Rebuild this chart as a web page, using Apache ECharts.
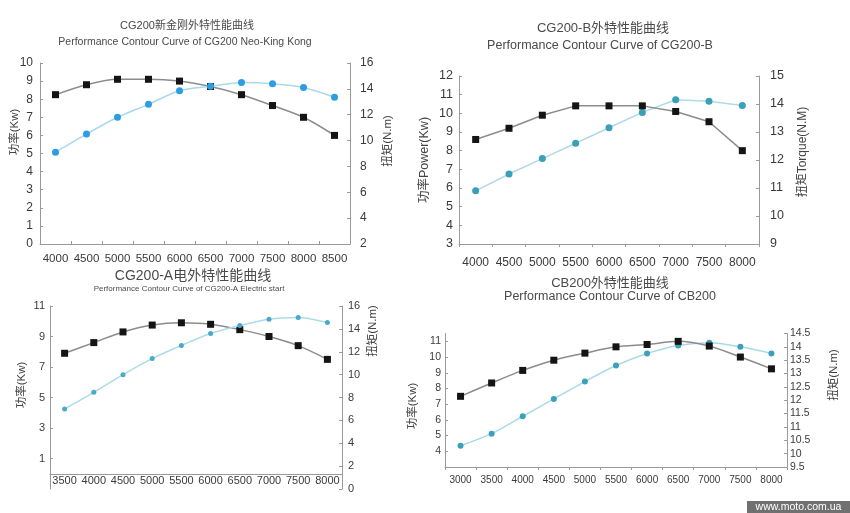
<!DOCTYPE html>
<html><head><meta charset="utf-8">
<script src="https://cdn.jsdelivr.net/npm/echarts@6/dist/echarts.min.js"></script>
<style>html,body{margin:0;padding:0;background:#fff}#c{width:850px;height:513px}</style>
</head><body><div id="c"></div>
<script>
// ---- data ----
const p1Cats = ['4000','4500','5000','5500','6000','6500','7000','7500','8000','8500'];
const p1Power = [8.25, 8.8, 9.1, 9.1, 9.0, 8.7, 8.25, 7.65, 7.0, 6.0];
const p1Torque = [9.1, 10.5, 11.8, 12.8, 13.85, 14.2, 14.5, 14.4, 14.1, 13.35];

const p2Cats = ['4000','4500','5000','5500','6000','6500','7000','7500','8000'];
const p2Power = [8.6, 9.2, 9.9, 10.4, 10.4, 10.4, 10.1, 9.55, 8.0];
const p2Torque = [10.9, 11.5, 12.05, 12.6, 13.15, 13.7, 14.15, 14.1, 13.95];

const p3Cats = ['3500','4000','4500','5000','5500','6000','6500','7000','7500','8000'];
const p3Power = [7.9, 8.6, 9.3, 9.75, 9.9, 9.8, 9.45, 9.0, 8.4, 7.5];
const p3Torque = [7.0, 8.45, 10.0, 11.4, 12.55, 13.6, 14.3, 14.85, 15.0, 14.55];

const p4Cats = ['3000','3500','4000','4500','5000','5500','6000','6500','7000','7500','8000'];
const p4Power = [7.5, 8.35, 9.15, 9.8, 10.25, 10.65, 10.8, 11.0, 10.7, 10.0, 9.25];
const p4Torque = [10.3, 10.75, 11.4, 12.05, 12.7, 13.3, 13.75, 14.05, 14.15, 14.0, 13.75];

const titles = [
  ['CG200新金刚外特性能曲线', 187, 26, 11],
  ['Performance Contour Curve of CG200 Neo-King Kong', 185, 42, 10.5],
  ['CG200-B外特性能曲线', 603, 28, 13],
  ['Performance Contour Curve of CG200-B', 600, 46, 12.5],
  ['CG200-A电外特性能曲线', 193, 276, 14],
  ['Performance Contour Curve of CG200-A Electric start', 189, 289, 8],
  ['CB200外特性能曲线', 610, 283, 13],
  ['Performance Contour Curve of CB200', 610, 297, 12.5]
];
const axisNames = [
  ['功率(Kw)', 15, 132, 11.5],
  ['扭矩(N.m)', 388, 141, 11.5],
  ['功率Power(Kw)', 425, 160, 12.5],
  ['扭矩Torque(N.M)', 803, 152, 12],
  ['功率(Kw)', 22, 385, 11.5],
  ['扭矩(N.m)', 373, 331, 11.5],
  ['功率(Kw)', 413, 406, 11.5],
  ['扭矩(N.m)', 834, 375, 11.5]
];

// ---- chart ----
const FONT = "'Liberation Sans', Arial, 'Noto Sans CJK SC', sans-serif";
const AX = '#9a9a9a', LBL = '#3a3a3a';
const grids = [
  {left: 40, top: 63, width: 310, height: 181},
  {left: 459, top: 76, width: 300, height: 168},
  {left: 50, top: 306, width: 292, height: 183},
  {left: 445, top: 333.5, width: 342, height: 133.5}
];
function xAx(gi, cats, fs, margin, inside, onZeroIdx, showTick) {
  return {
    type: 'category', gridIndex: gi, data: cats, boundaryGap: true,
    axisLine: {lineStyle: {color: AX}, onZero: onZeroIdx != null, onZeroAxisIndex: onZeroIdx == null ? undefined : onZeroIdx},
    axisTick: {show: showTick !== false, inside: inside, length: 3, lineStyle: {color: AX}},
    axisLabel: {color: LBL, fontSize: fs, margin: margin, fontFamily: FONT, interval: 0},
    splitLine: {show: false}
  };
}
function yAx(gi, pos, min, max, interval, fs, margin, extra) {
  return Object.assign({
    type: 'value', gridIndex: gi, position: pos, min: min, max: max, interval: interval,
    axisLine: {show: true, onZero: false, lineStyle: {color: AX}},
    axisTick: {show: true, inside: true, length: 3, lineStyle: {color: AX}},
    axisLabel: {color: LBL, fontSize: fs, margin: margin, fontFamily: FONT},
    splitLine: {show: false}
  }, extra || {});
}
function powerS(xi, yi, data, smooth, z) {
  return {type: 'line', xAxisIndex: xi, yAxisIndex: yi, data: data, smooth: smooth,
    symbol: 'rect', symbolSize: 7, z: z,
    lineStyle: {color: '#8c8c8c', width: 1.5},
    itemStyle: {color: '#141414'}};
}
function torqueS(xi, yi, data, smooth, color, lineColor, size, z) {
  return {type: 'line', xAxisIndex: xi, yAxisIndex: yi, data: data, smooth: smooth,
    symbol: 'circle', symbolSize: size, z: z,
    lineStyle: {color: lineColor, width: 1.5},
    itemStyle: {color: color}};
}

const graphic = [];
titles.forEach(t => graphic.push({type: 'text', x: t[1], y: t[2], silent: true,
  style: {text: t[0], fill: '#4a4a4a', font: t[3] + 'px ' + FONT, textAlign: 'center', textVerticalAlign: 'middle'}}));
axisNames.forEach(t => graphic.push({type: 'text', x: t[1], y: t[2], rotation: Math.PI / 2, silent: true,
  style: {text: t[0], fill: '#444', font: t[3] + 'px ' + FONT, textAlign: 'center', textVerticalAlign: 'middle'}}));
graphic.push({type: 'rect', shape: {x: 747, y: 501, width: 103, height: 12}, style: {fill: '#707070'}, silent: true});
graphic.push({type: 'text', x: 798.5, y: 507, silent: true,
  style: {text: 'www.moto.com.ua', fill: '#fff', font: '10.5px ' + FONT, textAlign: 'center', textVerticalAlign: 'middle'}});

const option = {
  animation: false,
  backgroundColor: '#ffffff',
  grid: grids,
  xAxis: [
    xAx(0, p1Cats, 11.5, 9, true, null),
    xAx(1, p2Cats, 12, 13, false, null),
    xAx(2, p3Cats, 11, -14, true, 4, false),
    xAx(3, p4Cats, 10, 8, false, null)
  ],
  yAxis: [
    yAx(0, 'left', 0, 10, 1, 12, 7),
    yAx(0, 'right', 2, 16, 2, 12, 10),
    yAx(1, 'left', 3, 12, 1, 12.5, 6),
    yAx(1, 'right', 9, 15, 1, 12.5, 11),
    yAx(2, 'left', -1, 11, 2, 11, 5, {axisLabel: {color: LBL, fontSize: 11, margin: 5, fontFamily: FONT, showMinLabel: false}}),
    yAx(2, 'right', 0, 16, 2, 11, 6),
    yAx(3, 'left', 3, 11.5, 1, 10.5, 4, {axisLabel: {color: LBL, fontSize: 10.5, margin: 4, fontFamily: FONT, showMinLabel: false, showMaxLabel: false}}),
    yAx(3, 'right', 9.5, 14.5, 0.5, 10.5, 3)
  ],
  series: [
    powerS(0, 0, p1Power, 0.3, 2),
    torqueS(0, 1, p1Torque, 0.3, '#2d9ddf', '#a9d8ef', 7, 3),
    powerS(1, 2, p2Power, false, 3),
    torqueS(1, 3, p2Torque, false, '#3a9fb8', '#b0dbe4', 7, 2),
    powerS(2, 4, p3Power, 0.3, 2),
    torqueS(2, 5, p3Torque, 0.3, '#4aa8c8', '#aedbe8', 5, 3),
    powerS(3, 6, p4Power, 0.3, 3),
    torqueS(3, 7, p4Torque, 0.3, '#3aa0bc', '#a9dbe6', 6, 2)
  ],
  graphic: graphic
};
const chart = echarts.init(document.getElementById('c'), null, {renderer: 'canvas'});
chart.setOption(option);
</script></body></html>
